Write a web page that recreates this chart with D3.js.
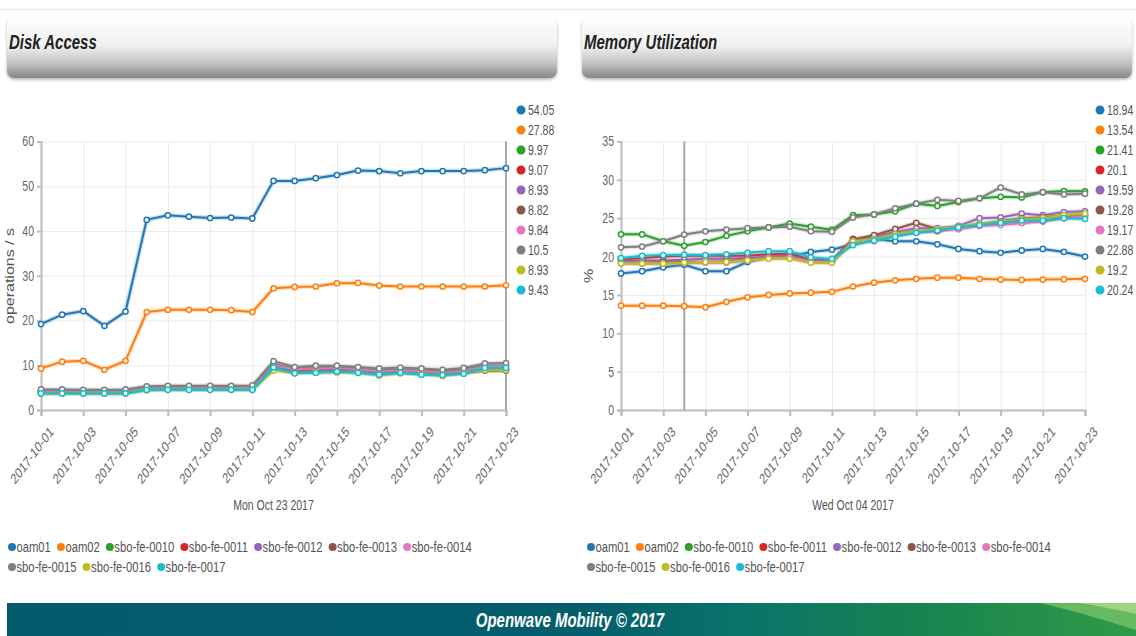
<!DOCTYPE html>
<html>
<head>
<meta charset="utf-8">
<script src="https://cdn.jsdelivr.net/npm/d3@7"></script>
<style>
  body { margin: 0; background: #fff; overflow: hidden; }
  svg { display: block; font-family: "Liberation Sans", Arial, sans-serif; }
</style>
</head>
<body>
<svg id="page" width="1136" height="636"></svg>
<script>
const dayLabels = [
  "2017-10-01", "2017-10-02", "2017-10-03", "2017-10-04", "2017-10-05", "2017-10-06",
  "2017-10-07", "2017-10-08", "2017-10-09", "2017-10-10", "2017-10-11", "2017-10-12",
  "2017-10-13", "2017-10-14", "2017-10-15", "2017-10-16", "2017-10-17", "2017-10-18",
  "2017-10-19", "2017-10-20", "2017-10-21", "2017-10-22", "2017-10-23"
];
const hosts = ["oam01", "oam02", "sbo-fe-0010", "sbo-fe-0011", "sbo-fe-0012",
  "sbo-fe-0013", "sbo-fe-0014", "sbo-fe-0015", "sbo-fe-0016", "sbo-fe-0017"];

// disk access, operations / s
const diskOam01 = [19.2, 21.3, 22.1, 18.8, 22.0, 42.5, 43.5, 43.2, 42.9, 43.0, 42.8, 51.2, 51.2, 51.8, 52.5, 53.5, 53.4, 52.9, 53.4, 53.4, 53.4, 53.6, 54.05];
const diskOam02 = [9.3, 10.8, 11.0, 9.0, 11.0, 21.9, 22.4, 22.4, 22.4, 22.3, 21.9, 27.2, 27.5, 27.6, 28.3, 28.4, 27.8, 27.6, 27.6, 27.6, 27.6, 27.6, 27.88];
const diskFe10 = [4.3, 4.3, 4.2, 4.2, 4.3, 5.0, 5.1, 5.1, 5.1, 5.1, 5.1, 10.2, 9.3, 9.5, 9.6, 9.3, 8.8, 9.1, 8.9, 8.6, 9.1, 9.9, 9.97];
const diskFe11 = [4.0, 4.0, 3.9, 3.9, 4.0, 4.7, 4.8, 4.8, 4.8, 4.8, 4.8, 9.6, 8.8, 9.0, 9.0, 8.7, 8.3, 8.6, 8.4, 8.1, 8.5, 9.0, 9.07];
const diskFe12 = [3.9, 3.9, 3.9, 3.9, 3.9, 4.6, 4.7, 4.7, 4.7, 4.7, 4.7, 9.4, 8.6, 8.8, 8.9, 8.6, 8.2, 8.5, 8.3, 7.9, 8.4, 8.9, 8.93];
const diskFe13 = [4.1, 4.1, 4.0, 4.0, 4.1, 4.8, 4.9, 4.9, 4.9, 4.9, 4.9, 9.5, 8.6, 8.7, 8.8, 8.5, 8.1, 8.4, 8.2, 7.9, 8.3, 8.8, 8.82];
const diskFe14 = [4.2, 4.2, 4.1, 4.1, 4.2, 4.9, 5.0, 5.0, 5.0, 5.0, 5.0, 10.0, 9.1, 9.3, 9.4, 9.1, 8.6, 8.9, 8.7, 8.3, 8.8, 9.8, 9.84];
const diskFe15 = [4.6, 4.6, 4.5, 4.5, 4.6, 5.3, 5.4, 5.4, 5.4, 5.4, 5.5, 10.9, 9.6, 9.9, 9.9, 9.6, 9.3, 9.5, 9.3, 9.0, 9.4, 10.4, 10.5];
const diskFe16 = [3.7, 3.7, 3.7, 3.7, 3.7, 4.4, 4.5, 4.5, 4.5, 4.5, 4.5, 8.8, 8.2, 8.4, 8.4, 8.3, 7.7, 8.2, 8.0, 7.6, 8.2, 8.9, 8.93];
const diskFe17 = [3.7, 3.7, 3.7, 3.7, 3.7, 4.5, 4.5, 4.5, 4.5, 4.5, 4.5, 9.5, 8.2, 8.3, 8.6, 8.3, 7.9, 8.3, 7.9, 7.8, 8.1, 9.4, 9.43];

// memory utilization, %
const memOam01 = [17.8, 18.1, 18.6, 18.94, 18.1, 18.1, 19.3, 19.9, 20.0, 20.6, 20.9, 21.6, 22.3, 22.0, 22.0, 21.6, 21.0, 20.7, 20.5, 20.8, 21.0, 20.6, 20.0];
const memOam02 = [13.6, 13.6, 13.6, 13.54, 13.4, 14.1, 14.7, 15.0, 15.2, 15.3, 15.4, 16.1, 16.6, 16.9, 17.1, 17.25, 17.25, 17.1, 17.0, 16.95, 17.0, 17.05, 17.1];
const memFe10 = [22.9, 22.9, 22.0, 21.41, 21.9, 22.7, 23.3, 23.8, 24.3, 23.9, 23.5, 25.4, 25.5, 25.9, 26.9, 26.6, 27.1, 27.6, 27.8, 27.7, 28.4, 28.55, 28.5];
const memFe11 = [19.6, 19.8, 20.0, 20.1, 20.1, 20.1, 20.1, 20.3, 20.4, 19.6, 19.5, 22.3, 22.4, 22.9, 23.3, 23.3, 23.8, 24.2, 24.3, 24.4, 24.6, 25.2, 25.3];
const memFe12 = [19.4, 19.5, 19.5, 19.59, 19.7, 19.7, 19.8, 20.0, 20.1, 19.4, 19.4, 21.9, 22.6, 23.2, 23.7, 23.7, 24.0, 25.0, 25.1, 25.6, 25.4, 25.8, 25.9];
const memFe13 = [19.2, 19.2, 19.3, 19.28, 19.3, 19.4, 19.6, 19.9, 20.0, 19.3, 19.3, 22.2, 22.8, 23.6, 24.4, 23.6, 23.6, 24.2, 24.6, 25.0, 25.1, 25.4, 25.5];
const memFe14 = [19.1, 19.1, 19.1, 19.17, 19.2, 19.2, 19.5, 19.8, 19.9, 19.3, 19.3, 21.9, 22.0, 22.8, 23.1, 23.4, 23.6, 24.0, 24.1, 24.4, 24.6, 25.0, 25.3];
const memFe15 = [21.2, 21.3, 22.0, 22.88, 23.3, 23.5, 23.7, 23.8, 23.9, 23.3, 23.25, 25.1, 25.5, 26.3, 26.9, 27.4, 27.25, 27.6, 29.0, 28.1, 28.4, 28.1, 28.2];
const memFe16 = [19.1, 19.1, 19.1, 19.2, 19.3, 19.3, 19.5, 19.7, 19.7, 19.2, 19.2, 22.0, 22.3, 22.9, 23.3, 23.6, 23.9, 24.3, 24.5, 24.9, 25.0, 25.4, 25.6];
const memFe17 = [19.8, 20.1, 20.2, 20.24, 20.2, 20.3, 20.5, 20.7, 20.7, 19.9, 19.7, 21.5, 22.1, 22.6, 23.1, 23.4, 23.8, 24.1, 24.4, 24.7, 24.7, 25.0, 24.9];

const diskSeries = [diskOam01, diskOam02, diskFe10, diskFe11, diskFe12, diskFe13, diskFe14, diskFe15, diskFe16, diskFe17];
const memSeries = [memOam01, memOam02, memFe10, memFe11, memFe12, memFe13, memFe14, memFe15, memFe16, memFe17];
const diskTicks = [0, 10, 20, 30, 40, 50, 60];
const memTicks = [0, 5, 10, 15, 20, 25, 30, 35];

const SX = 0.75; // the page text is drawn narrow
const parseDay = d3.timeParse("%Y-%m-%d");
const days = dayLabels.map(parseDay);
const color = d3.scaleOrdinal().domain(hosts).range(d3.schemeCategory10);

const svg = d3.select("#page");
const defs = svg.append("defs");

// move x/y into a transform so the glyphs can be squeezed horizontally
function squeeze(sel, extra = "") {
  sel.each(function () {
    const t = d3.select(this);
    const x = +t.attr("x") || 0;
    const y = +t.attr("y") || 0;
    t.attr("x", 0).attr("y", 0)
      .attr("transform", `translate(${x},${y}) scale(${SX},1) ${extra}`);
  });
  return sel;
}

const hg = defs.append("linearGradient").attr("id", "hdr").attr("x1", 0).attr("y1", 0).attr("x2", 0).attr("y2", 1);
hg.append("stop").attr("offset", "0%").attr("stop-color", "#fefefe");
hg.append("stop").attr("offset", "45%").attr("stop-color", "#f1f1f1");
hg.append("stop").attr("offset", "75%").attr("stop-color", "#c4c4c4");
hg.append("stop").attr("offset", "100%").attr("stop-color", "#868686");

const shadow = defs.append("filter").attr("id", "shadow").attr("x", "-5%").attr("y", "-20%").attr("width", "110%").attr("height", "150%");
shadow.append("feDropShadow").attr("dx", 0).attr("dy", 1.5).attr("stdDeviation", 1.5).attr("flood-color", "#000").attr("flood-opacity", 0.3);

const fg = defs.append("linearGradient").attr("id", "ftr").attr("x1", 0).attr("y1", 0).attr("x2", 1).attr("y2", 0);
fg.append("stop").attr("offset", "0%").attr("stop-color", "#035a6b");
fg.append("stop").attr("offset", "52%").attr("stop-color", "#045e6c");
fg.append("stop").attr("offset", "66%").attr("stop-color", "#0a7569");
fg.append("stop").attr("offset", "80%").attr("stop-color", "#17824f");
fg.append("stop").attr("offset", "100%").attr("stop-color", "#2f9a48");

svg.append("line").attr("x1", 0).attr("x2", 1136).attr("y1", 9.5).attr("y2", 9.5)
  .attr("stroke", "#ececec").attr("stroke-width", 1.5);

function header(x, w, title) {
  svg.append("rect").attr("x", x).attr("y", 18).attr("width", w).attr("height", 60)
    .attr("rx", 7).attr("fill", "url(#hdr)").attr("filter", "url(#shadow)");
  squeeze(svg.append("text").attr("x", x + 2).attr("y", 49).text(title)
    .attr("font-size", 20).attr("font-weight", "bold").attr("font-style", "italic")
    .attr("fill", "#222"));
}
header(7, 550, "Disk Access");
header(582, 550, "Memory Utilization");

function drawPanel(cfg) {
  const g = svg.append("g");
  const x = d3.scaleTime().domain(d3.extent(days)).range([cfg.left, cfg.right]);
  const y = d3.scaleLinear().domain([0, d3.max(cfg.ticks)]).range([410, 141.5]);

  // grid
  g.append("g").attr("transform", `translate(${cfg.left},0)`)
    .call(d3.axisLeft(y).tickValues(cfg.ticks).tickSize(-(cfg.right - cfg.left)).tickFormat(""))
    .call((s) => s.select(".domain").remove())
    .call((s) => s.selectAll("line").attr("stroke", "#ebebeb"));
  g.append("g").attr("transform", "translate(0,410)")
    .call(d3.axisBottom(x).ticks(d3.timeDay.every(2)).tickSize(-(410 - 141.5)).tickFormat(""))
    .call((s) => s.select(".domain").remove())
    .call((s) => s.selectAll("line").attr("stroke", "#ebebeb"));

  // axes
  const ya = g.append("g").attr("transform", `translate(${cfg.left},0)`)
    .call(d3.axisLeft(y).tickValues(cfg.ticks).tickSize(4).tickPadding(3));
  ya.select(".domain").attr("stroke", "#bdbdbd").attr("stroke-width", 2);
  ya.selectAll("line").attr("stroke", "#bdbdbd").attr("stroke-width", 2);
  squeeze(ya.selectAll("text").attr("font-size", 14).attr("font-family", "inherit").attr("fill", "#666"));

  const xa = g.append("g").attr("transform", "translate(0,410)")
    .call(d3.axisBottom(x).ticks(d3.timeDay.every(2)).tickFormat(d3.timeFormat("%Y-%m-%d")).tickSize(6));
  xa.select(".domain").attr("stroke", "#bdbdbd").attr("stroke-width", 2);
  xa.selectAll("line").attr("stroke", "#bdbdbd").attr("stroke-width", 2);
  xa.selectAll("text").attr("font-size", 14.5).attr("font-family", "inherit").attr("fill", "#666")
    .attr("text-anchor", "end").attr("dy", "0.35em").attr("x", 10).attr("y", 19);
  squeeze(xa.selectAll("text"), "rotate(-45)");

  squeeze(g.append("text").attr("x", cfg.ylabX).attr("y", 276)
    .attr("text-anchor", "middle").attr("font-size", 16).attr("fill", "#555").text(cfg.ylab), "rotate(-90)");
  squeeze(g.append("text").attr("x", (cfg.left + cfg.right) / 2).attr("y", 510)
    .attr("text-anchor", "middle").attr("font-size", 14).attr("fill", "#555").text(cfg.xTitle));

  // hover guide line
  g.append("line").attr("x1", x(days[cfg.hover])).attr("x2", x(days[cfg.hover]))
    .attr("y1", 141.5).attr("y2", 410).attr("stroke", "#a8a8a8").attr("stroke-width", 2);

  const line = d3.line().x((d, i) => x(days[i])).y((d) => y(d));
  cfg.series.forEach((vals, k) => {
    const c = color(hosts[k]);
    g.append("path").attr("d", line(vals)).attr("fill", "none")
      .attr("stroke", c).attr("stroke-width", 4.5).attr("stroke-opacity", 0.25);
    g.append("path").attr("d", line(vals)).attr("fill", "none")
      .attr("stroke", c).attr("stroke-width", 2);
    g.selectAll(null).data(vals).join("circle")
      .attr("cx", (d, i) => x(days[i])).attr("cy", (d) => y(d)).attr("r", 2.6)
      .attr("fill", "#fff").attr("stroke", c).attr("stroke-width", 1.5);
  });

  // side legend with hover values
  cfg.series.forEach((vals, k) => {
    const ly = 110 + k * 20;
    g.append("circle").attr("cx", cfg.right + 15).attr("cy", ly).attr("r", 4.5).attr("fill", color(hosts[k]));
    squeeze(g.append("text").attr("x", cfg.right + 22).attr("y", ly + 5).attr("font-size", 14)
      .attr("fill", "#555").text(String(+vals[cfg.hover].toFixed(2))));
  });

  // bottom legend, flowing in rows
  let lx = cfg.legX, ly = 547;
  hosts.forEach((h) => {
    const t = g.append("text").attr("font-size", 15).attr("fill", "#555").text(h);
    const w = t.node().getComputedTextLength() * SX;
    if (lx + w + 10 > cfg.legX + 505) { lx = cfg.legX; ly += 20; }
    g.append("circle").attr("cx", lx + 4).attr("cy", ly).attr("r", 4).attr("fill", color(h));
    squeeze(t.attr("x", lx + 8.5).attr("y", ly + 5));
    lx += w + 14.5;
  });
}

drawPanel({ left: 41, right: 506, ticks: diskTicks, series: diskSeries, hover: 22,
  ylab: "operations / s", ylabX: 14, xTitle: "Mon Oct 23 2017", legX: 8 });
drawPanel({ left: 621, right: 1085, ticks: memTicks, series: memSeries, hover: 3,
  ylab: "%", ylabX: 593, xTitle: "Wed Oct 04 2017", legX: 587 });

// footer
svg.append("rect").attr("x", 7).attr("y", 603).attr("width", 1129).attr("height", 33).attr("fill", "url(#ftr)");
svg.append("path").attr("d", "M1040,603 L1136,603 L1136,630 C1110,622 1080,612 1040,603 Z")
  .attr("fill", "#7cc56a").attr("opacity", 0.75);
svg.append("path").attr("d", "M1080,603 L1136,603 L1136,614 C1118,610 1100,606 1080,603 Z")
  .attr("fill", "#b6e08f").attr("opacity", 0.7);
squeeze(svg.append("text").attr("x", 570).attr("y", 627).attr("text-anchor", "middle")
  .attr("font-size", 20).attr("font-weight", "bold").attr("font-style", "italic")
  .attr("fill", "#fff").text("Openwave Mobility © 2017"));
</script>
</body>
</html>
